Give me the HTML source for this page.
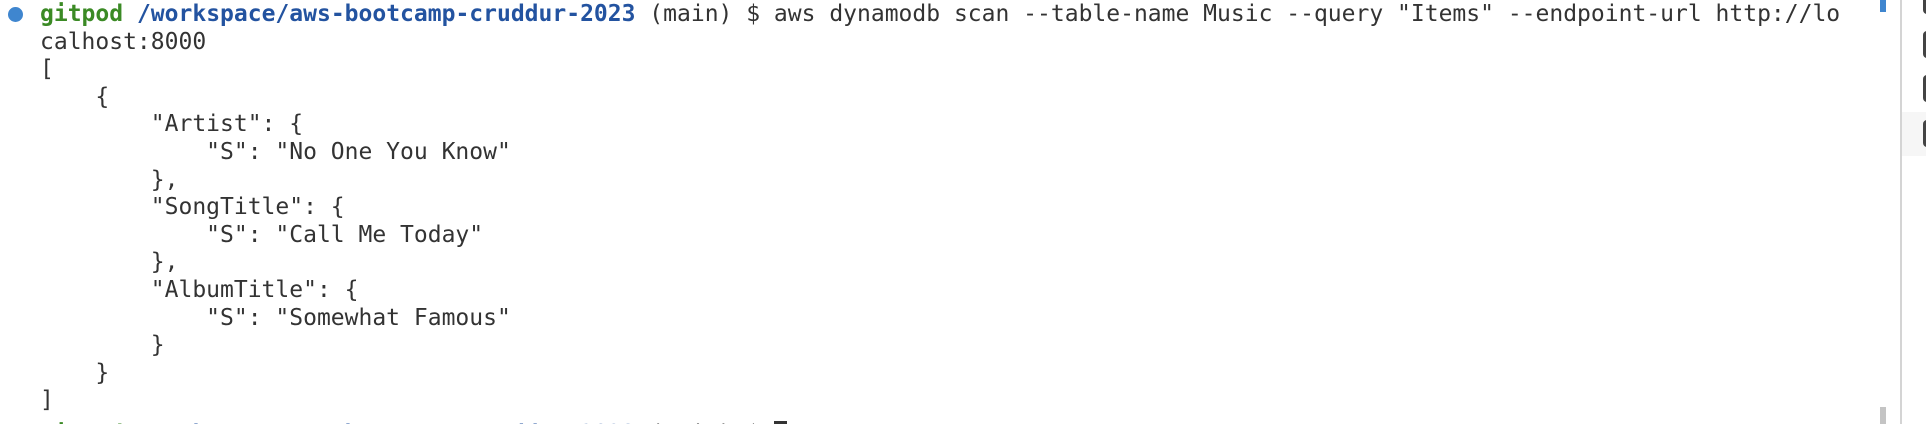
<!DOCTYPE html>
<html><head><meta charset="utf-8"><style>
html,body{margin:0;padding:0;background:#fff;width:1926px;height:424px;overflow:hidden;position:relative}
pre{position:absolute;left:40px;top:1px;margin:0;font-family:"DejaVu Sans Mono","Liberation Mono",monospace;font-size:23px;line-height:27.6px;color:#333;white-space:pre}
.g{color:#3b8a25;font-weight:bold}.b{color:#2353a0;font-weight:bold}
.cur{display:inline-block;width:13px;height:24px;background:#333;vertical-align:-4px}
.dot{position:absolute;left:8px;top:7px;width:15px;height:15px;border-radius:50%;background:#3f86cf}
.last{position:relative;top:6px}
</style></head><body>
<div class="dot"></div>
<pre><span class="g">gitpod</span> <span class="b">/workspace/aws-bootcamp-cruddur-2023</span> (main) $ aws dynamodb scan --table-name Music --query "Items" --endpoint-url http://lo
calhost:8000
[
    {
        "Artist": {
            "S": "No One You Know"
        },
        "SongTitle": {
            "S": "Call Me Today"
        },
        "AlbumTitle": {
            "S": "Somewhat Famous"
        }
    }
]
<span class="last"><span class="g">gitpod</span> <span class="b">/workspace/aws-bootcamp-cruddur-2023</span> (main) $ <span class="cur"></span></span></pre>
<div style="position:absolute;left:1880px;top:0;width:6px;height:12px;background:#3f86cf"></div>
<div style="position:absolute;left:1880px;top:407px;width:6px;height:17px;background:#c4c4c4"></div>
<div style="position:absolute;left:1900px;top:0;width:2px;height:424px;background:#d4d4d4"></div>
<div style="position:absolute;left:1902px;top:112px;width:24px;height:44px;background:#f6f6f6"></div>
<div style="position:absolute;left:1923px;top:-4px;width:8px;height:18px;border:3px solid #444;border-radius:4px;box-sizing:border-box"></div>
<div style="position:absolute;left:1923px;top:31px;width:8px;height:27px;border:3px solid #444;border-radius:4px;box-sizing:border-box"></div>
<div style="position:absolute;left:1923px;top:75px;width:8px;height:27px;border:3px solid #444;border-radius:4px;box-sizing:border-box"></div>
<div style="position:absolute;left:1923px;top:120px;width:8px;height:27px;border:3px solid #444;border-radius:4px;box-sizing:border-box"></div>
</body></html>
